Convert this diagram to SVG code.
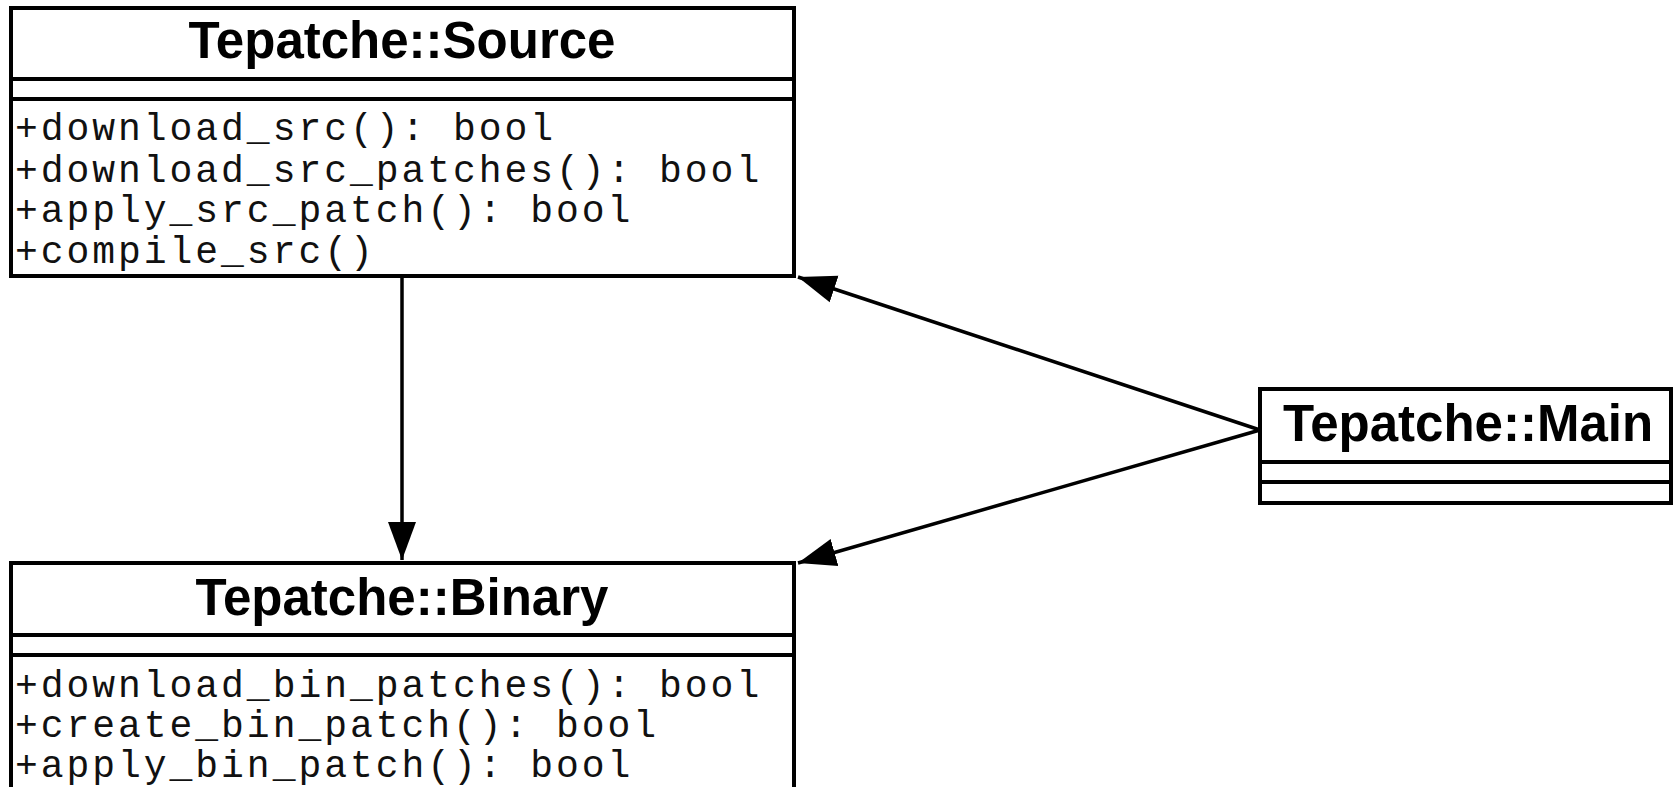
<svg xmlns="http://www.w3.org/2000/svg" width="1677" height="787" viewBox="0 0 1677 787">
<style>
.box{fill:#fff;stroke:#000;stroke-width:4}
.div{stroke:#000;stroke-width:4}
.title{font-family:"Liberation Sans",Arial,sans-serif;font-weight:bold;font-size:51px;text-anchor:middle;fill:#000}
.op{font-family:"Liberation Mono","Courier New",monospace;font-size:38px;letter-spacing:2.96px;fill:#111}
.conn{stroke:#000;stroke-width:3.5;fill:none}
</style>
<defs>
<marker id="arr" markerUnits="userSpaceOnUse" markerWidth="40" markerHeight="30" viewBox="0 0 40 30" refX="38" refY="15" orient="auto">
<path d="M0,1 L38,15 L0,29 Z" fill="#000"/>
</marker>
</defs>
<rect width="1677" height="787" fill="#fff"/>
<g id="connectors">
<line class="conn" x1="402" y1="278" x2="402" y2="560" marker-end="url(#arr)"/>
<line class="conn" x1="1260" y1="430" x2="798" y2="277" marker-end="url(#arr)"/>
<line class="conn" x1="1260" y1="430" x2="798" y2="563" marker-end="url(#arr)"/>
</g>
<g id="source">
<rect class="box" x="11" y="8" width="783" height="268"/>
<line class="div" x1="11" y1="79" x2="794" y2="79"/>
<line class="div" x1="11" y1="99" x2="794" y2="99"/>
<text class="title" x="402" y="58">Tepatche::Source</text>
<text class="op" x="15" y="140">+download_src(): bool</text>
<text class="op" x="15" y="182">+download_src_patches(): bool</text>
<text class="op" x="15" y="222">+apply_src_patch(): bool</text>
<text class="op" x="15" y="263">+compile_src()</text>
</g>
<g id="binary">
<rect class="box" x="11" y="563" width="783" height="250"/>
<line class="div" x1="11" y1="635" x2="794" y2="635"/>
<line class="div" x1="11" y1="655" x2="794" y2="655"/>
<text class="title" x="402" y="615">Tepatche::Binary</text>
<text class="op" x="15" y="697">+download_bin_patches(): bool</text>
<text class="op" x="15" y="737">+create_bin_patch(): bool</text>
<text class="op" x="15" y="777">+apply_bin_patch(): bool</text>
</g>
<g id="main">
<rect class="box" x="1260" y="389" width="411" height="114"/>
<line class="div" x1="1260" y1="462" x2="1671" y2="462"/>
<line class="div" x1="1260" y1="482" x2="1671" y2="482"/>
<text class="title" x="1468" y="441">Tepatche::Main</text>
</g>
</svg>
